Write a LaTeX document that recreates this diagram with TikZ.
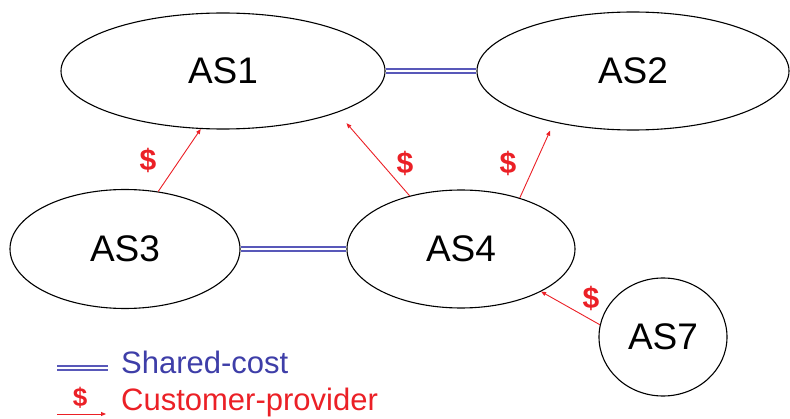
\documentclass[tikz,border=0pt]{standalone}
\usepackage{fontspec}
\setmainfont{Liberation Sans}
\usepackage{xcolor}
\definecolor{peerblue}{RGB}{88,88,185}
\definecolor{legblue}{RGB}{62,62,168}
\definecolor{custred}{RGB}{235,32,38}
\usetikzlibrary{arrows.meta,shapes.geometric}

\begin{document}
\begin{tikzpicture}[x=1pt,y=1pt,
      asnode/.style={ellipse,draw=black,line width=1.1pt,inner sep=0pt,font=\fontsize{37}{40}\selectfont},
      peer/.style={draw=peerblue,double=white,double distance=2.8pt,line width=1.5pt},
      cust/.style={-{Triangle[length=5pt,width=4pt]},line width=0.9pt,custred},
      dollar/.style={font=\bfseries\fontsize{30}{32}\selectfont,text=custred,inner sep=1pt},
      lab/.style={font=\fontsize{31}{34}\selectfont,inner sep=0pt,anchor=base west}]
    \useasboundingbox (0,0) rectangle (790,418);
    % the autonomous systems
    \node[asnode,minimum width=324pt,minimum height=116pt] (AS1) at (223,347) {AS1};
    \node[asnode,minimum width=312pt,minimum height=118pt] (AS2) at (633,347) {AS2};
    \node[asnode,minimum width=230pt,minimum height=119pt] (AS3) at (125,169) {AS3};
    \node[asnode,minimum width=228pt,minimum height=118pt] (AS4) at (461,169) {AS4};
    \node[asnode,minimum width=128pt,minimum height=118pt] (AS7) at (663,81) {AS7};
    % shared-cost links
    \draw[peer] (AS1.east) -- (AS2.west);
    \draw[peer] (AS3.east) -- (AS4.west);
    % customer -> provider links
    \draw[cust] (AS3.60) -- (AS1.249);
    \draw[cust,shorten >=14pt] (AS4.134) -- (AS1.340);
    \draw[cust,shorten >=9pt] (AS4.41) -- (AS2.213);
    \draw[cust] (AS7.169) -- (AS4.332);
    \node[dollar] (d31) at (148,258) {\$};
    \node[dollar] (d41) at (405,255) {\$};
    \node[dollar] (d42) at (508,255) {\$};
    \node[dollar,fill=white] (d74) at (591,120) {\$};
    % legend
    \coordinate (sc0) at (57,50);
    \coordinate (sc1) at (108,50);
    \draw[peer] (sc0) -- (sc1);
    \node[lab,text=legblue] (lsc) at (121,45) {Shared-cost};
    \node[dollar,font=\bfseries\fontsize{26}{28}\selectfont] (ld) at (80,20) {\$};
    \coordinate (cp0) at (57,4);
    \coordinate (cp1) at (106,4);
    \draw[cust] (cp0) -- (cp1);
    \node[lab,text=custred] (lcp) at (121,8) {Customer-provider};
  \end{tikzpicture}
\end{document}
